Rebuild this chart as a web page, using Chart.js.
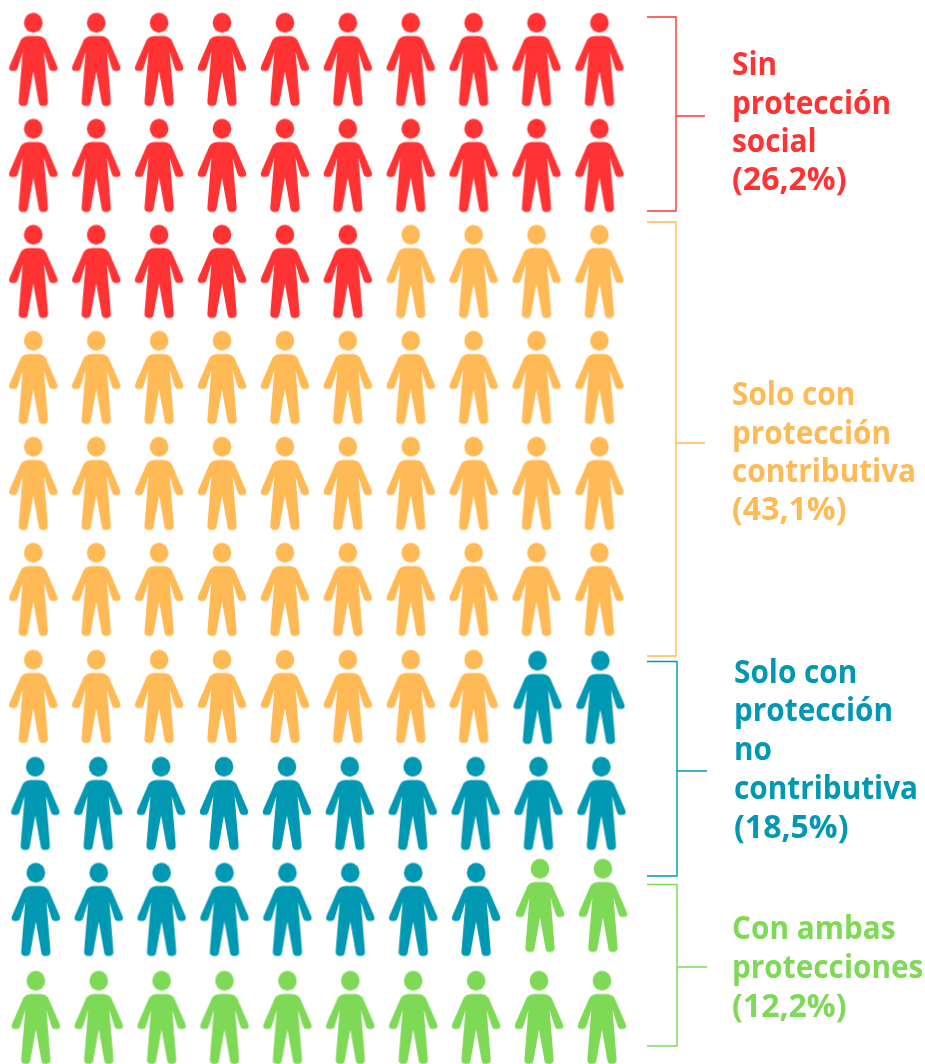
<!DOCTYPE html>
<html lang="es"><head><meta charset="utf-8">
<style>html,body{margin:0;padding:0;background:#fff}canvas{display:block}</style>
<script src="https://cdn.jsdelivr.net/npm/chart.js@4"></script></head>
<body><canvas id="c" width="925" height="1064"></canvas>
<script>
const categories = ["Sin protección social","Solo con protección contributiva","Solo con protección no contributiva","Con ambas protecciones"];
const peopleCounts = [26,42,20,12];
const percentLabels = ["(26,2%)","(43,1%)","(18,5%)","(12,2%)"];
const labelLines = [["Sin","protección","social"],["Solo con","protección","contributiva"],["Solo con","protección","no","contributiva"],["Con ambas","protecciones"]];
const colors = ["#FF3333","#FFB955","#0098B2","#7ED957"];

const COLS=10, STEP_X=62.9, STEP_Y=106, X0=33.3, Y0=59.5;
// optical offsets (px) by category, row → [dx, dy]
const nudges = [
  {},
  {6:[0,1]},
  {6:[1,2],7:[2,2],8:[2.5,2]},
  {8:[3.5,-2],9:[2.5,4]}
];
const labelLayout = [
  {x:732,baselines:[75,114,152,190]},
  {x:732,baselines:[405,444,482,520]},
  {x:734,baselines:[683,721,760,799,838]},
  {x:732,baselines:[939,978,1017]}
];
const brackets = [
  {top:17,bottom:211,mid:116,right:676,tick:705},
  {top:222,bottom:656,mid:443,right:676,tick:705},
  {top:661.5,bottom:876,mid:771,right:677,tick:707},
  {top:884.5,bottom:1046,mid:967,right:677,tick:707}
];

function personIcon(color){
  const cv=document.createElement('canvas');cv.width=60;cv.height=100;
  const g=cv.getContext('2d');
  g.filter='blur(0.5px)';
  g.fillStyle=color;g.translate(30,3.6);
  g.beginPath();g.ellipse(0,9.7,9.3,10,0,0,Math.PI*2);g.fill();
  g.beginPath();
  g.moveTo(0,22.8);
  g.bezierCurveTo(5,22.8,9.5,22.6,12.5,27);
  g.lineTo(23.8,53);
  g.quadraticCurveTo(25.2,57.5,21.5,58);
  g.lineTo(19,58);
  g.quadraticCurveTo(16.5,58,15.4,54.5);
  g.lineTo(10.6,39);
  g.lineTo(14.6,88);
  g.quadraticCurveTo(15,92.6,11,92.8);
  g.lineTo(8.5,92.8);
  g.quadraticCurveTo(5.8,92.8,5.4,89);
  g.lineTo(0,58.5);
  g.lineTo(-5.4,89);
  g.quadraticCurveTo(-5.8,92.8,-8.5,92.8);
  g.lineTo(-11,92.8);
  g.quadraticCurveTo(-15,92.6,-14.6,88);
  g.lineTo(-10.6,39);
  g.lineTo(-15.4,54.5);
  g.quadraticCurveTo(-16.5,58,-19,58);
  g.lineTo(-21.5,58);
  g.quadraticCurveTo(-25.2,57.5,-23.8,53);
  g.lineTo(-12.5,27);
  g.bezierCurveTo(-9.5,22.6,-5,22.8,0,22.8);
  g.closePath();g.fill();
  return cv;
}

let idx=0;
const datasets = categories.map((name,ci)=>{
  const pts=[];
  for(let n=0;n<peopleCounts[ci];n++,idx++){
    const col=idx%COLS,row=Math.floor(idx/COLS);
    const nd=nudges[ci][row]||[0,0];
    pts.push({x:col+nd[0]/STEP_X,y:row+nd[1]/STEP_Y});
  }
  return {label:name,data:pts,pointStyle:personIcon(colors[ci]),pointRadius:25,pointHoverRadius:25,showLine:false,backgroundColor:colors[ci],borderColor:colors[ci],clip:false};
});

const annotate={id:'annotate',afterDatasetsDraw(chart){
  const c=chart.ctx;c.save();
  brackets.forEach((b,i)=>{
    c.strokeStyle=colors[i];c.lineWidth=1.4;c.beginPath();
    c.moveTo(647,b.top);c.lineTo(b.right,b.top);c.lineTo(b.right,b.bottom);c.lineTo(647,b.bottom);
    c.moveTo(b.right,b.mid);c.lineTo(b.tick,b.mid);c.stroke();
  });
  c.textBaseline='alphabetic';c.textAlign='left';
  c.font='bold 32px "Open Sans"';
  labelLines.forEach((ls,i)=>{
    c.fillStyle=colors[i];
    const lines=[...ls,percentLabels[i]];
    lines.forEach((t,j)=>{
      const squeeze=j===lines.length-1?1:0.93;
      c.save();c.translate(labelLayout[i].x,labelLayout[i].baselines[j]);c.scale(squeeze,1);
      c.fillText(t,0,0);c.restore();
    });
  });
  c.restore();
}};

new Chart(document.getElementById('c'),{
  type:'scatter',
  data:{datasets},
  options:{responsive:false,animation:false,events:[],
    layout:{padding:0,autoPadding:false},
    plugins:{legend:{display:false},tooltip:{enabled:false},title:{display:false}},
    scales:{
      x:{type:'linear',display:false,min:-X0/STEP_X,max:(925-X0)/STEP_X},
      y:{type:'linear',display:false,reverse:true,min:-Y0/STEP_Y,max:(1064-Y0)/STEP_Y}
    }
  },
  plugins:[annotate]
});
</script></body></html>
